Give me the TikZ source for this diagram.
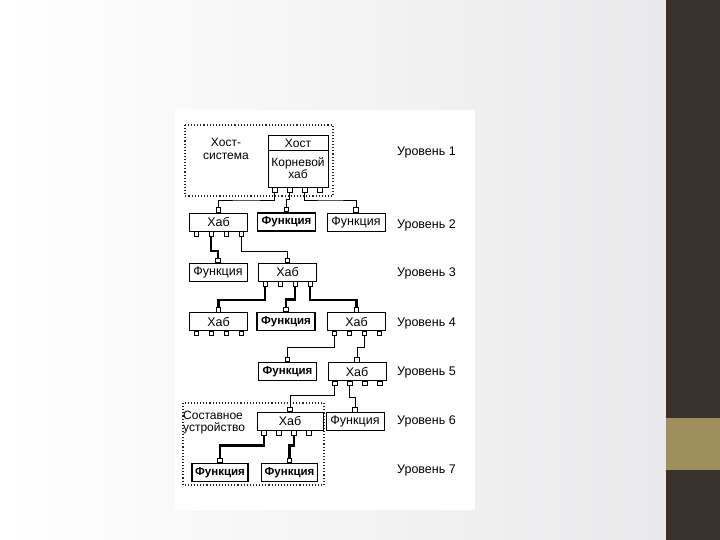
\documentclass[tikz,border=0pt]{standalone}
\usepackage{fontspec}
\setmainfont{Liberation Sans}
\usetikzlibrary{calc}
\definecolor{slidebar}{RGB}{56,50,45}
\definecolor{slideedge}{RGB}{62,46,32}
\definecolor{slidegold}{RGB}{160,143,94}
\definecolor{slidegray}{RGB}{233,233,235}
\tikzset{
    box/.style = {rectangle, draw=black, line width=0.8pt, fill=white, minimum width=58pt, minimum height=18pt, inner sep=1pt, font=\fontsize{12.5}{12}\selectfont},
    boxb/.style = {box, line width=1.8pt, font=\fontsize{11.5}{12}\selectfont\bfseries},
    boxm/.style = {box, line width=1.2pt, font=\fontsize{11.5}{12}\selectfont\bfseries},
    port/.style = {rectangle, draw=black, line width=0.6pt, fill=white, minimum size=4.5pt, inner sep=0pt},
    wire/.style = {line width=0.8pt},
    wireb/.style = {line width=2.2pt},
    lvl/.style = {anchor=west, inner sep=0pt, font=\fontsize{12.5}{12}\selectfont},
    txt/.style = {align=center, inner sep=0pt, font=\fontsize{12}{12.5}\selectfont},
    zone/.style = {draw=black!85, line width=1.1pt, dotted},
    bus/.style = {to path={|- ($(\tikztostart)!#1!(\tikztotarget)$) -| (\tikztotarget)}},
    bus/.default = 0.5
}
\begin{document}
\begin{tikzpicture}[x=1pt,y=-1pt]
\useasboundingbox (0,0) rectangle (720,540);
% slide
\shade[left color=white, right color=slidegray] (0,0) rectangle (666,540);
\fill[slidebar] (666,0) rectangle (720,540);
\fill[slideedge] (666,0) rectangle (669,540);
\fill[slidegold] (666,418) rectangle (720,470);
\fill[white] (175,110) rectangle (475,510);
%
\draw[zone] (185,125) rectangle (333,196);
\draw[zone] (183,403) rectangle (324,485);
%
\node[box, minimum width=60pt, minimum height=52pt] at (298,161) (host) {};
\draw[wire] ($(host.north west)+(0,16)$) -- ($(host.north east)+(0,16)$);
\node[txt] at (298,143) (hosttop) {Хост};
\node[txt] at (298,168) (hostroot) {Корневой\\хаб};
\node[txt] at (226,149) (hostsys) {Хост-\\система};
%
\node[box] at (218.5,222) (hubA) {Хаб};
\node[boxb] at (286.5,222) (funA) {Функция};
\node[box] at (356,222) (funB) {Функция};
%
\node[box] at (218,272) (funC) {Функция};
\node[box] at (287.5,272) (hubB) {Хаб};
%
\node[box] at (218.5,321.5) (hubC) {Хаб};
\node[boxb] at (286,321.5) (funD) {Функция};
\node[box] at (356.5,321.5) (hubD) {Хаб};
%
\node[boxb] at (287.5,371.5) (funE) {Функция};
\node[box] at (357,371.5) (hubE) {Хаб};
%
\node[box, minimum width=66pt] at (290,421) (hubF) {Хаб};
\node[box] at (355,421.5) (funF) {Функция};
\node[txt, anchor=west, align=left] at (183,422.5) (compound) {Составное\\устройство};
%
\node[boxm, minimum width=56pt] at (220,472.5) (funG) {Функция};
\node[boxm, minimum width=56pt] at (289.5,472.5) (funH) {Функция};
%
\foreach \n in {host,hubA,hubB,hubC,hubD,hubE,hubF}
  \foreach \i/\dx in {1/7,2/22,3/37,4/52}
    \node[port, anchor=north] (\n-\i) at ($(\n.south west)+(\dx,0)$) {};
\foreach \n in {hubA,funA,funB,funC,hubB,hubC,funD,hubD,funE,hubE,hubF,funF,funG,funH}
  \node[port, anchor=south] (\n-t) at (\n.north) {};
%
\draw[wire] (host-1.south) to[bus] (hubA-t.north);
\draw[wire] (host-2.south) to[bus] (funA-t.north);
\draw[wire] (host-3.south) to[bus] (funB-t.north);
\draw[wireb] (hubA-2.south) to[bus=0.7] (funC-t.north);
\draw[wire] (hubA-4.south) to[bus=0.7] (hubB-t.north);
\draw[wireb] (hubB-1.south) to[bus=0.65] (hubC-t.north);
\draw[wireb] (hubB-3.south) to[bus=0.65] (funD-t.north);
\draw[wireb] (hubB-4.south) to[bus=0.65] (hubD-t.north);
\draw[wire] (hubD-1.south) to[bus=0.55] (funE-t.north);
\draw[wire] (hubD-3.south) to[bus=0.55] (hubE-t.north);
\draw[wire] (hubE-1.south) to[bus=0.45] (hubF-t.north);
\draw[wire] (hubE-2.south) to[bus=0.55] (funF-t.north);
\draw[wireb] (hubF-1.south) to[bus=0.45] (funG-t.north);
\draw[wireb] (hubF-3.south) to[bus=0.45] (funH-t.north);
%
\node[lvl] at (397,152) (lvl1) {Уровень 1};
\node[lvl] at (397,225) (lvl2) {Уровень 2};
\node[lvl] at (397,273) (lvl3) {Уровень 3};
\node[lvl] at (397,323) (lvl4) {Уровень 4};
\node[lvl] at (397,372) (lvl5) {Уровень 5};
\node[lvl] at (397,421) (lvl6) {Уровень 6};
\node[lvl] at (397,470) (lvl7) {Уровень 7};
\end{tikzpicture}
\end{document}
